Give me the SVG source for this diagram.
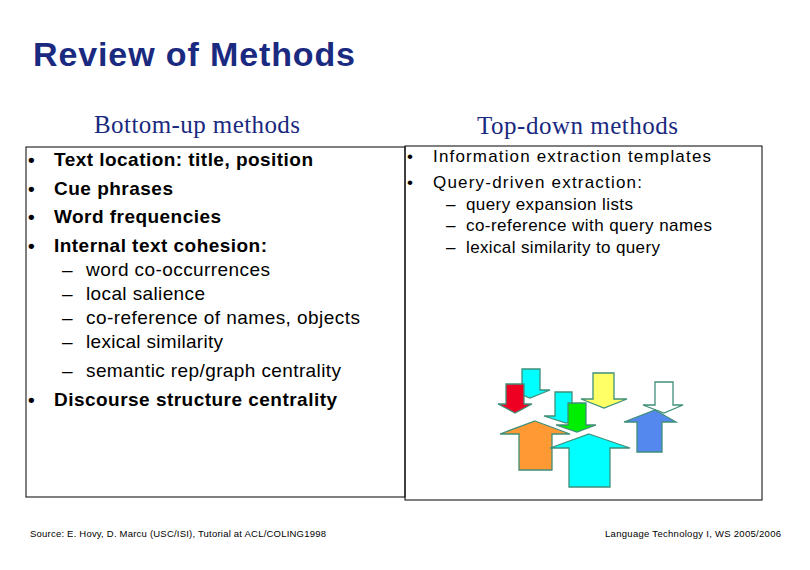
<svg xmlns="http://www.w3.org/2000/svg" width="810" height="570" viewBox="0 0 810 570">
<style>
.b{font-family:"Liberation Sans",Arial,sans-serif;font-weight:bold;font-size:19px;fill:#000}
.s{font-family:"Liberation Sans",Arial,sans-serif;font-size:19px;fill:#000}
.r{font-family:"Liberation Sans",Arial,sans-serif;font-size:17px;fill:#000}
.h{font-family:"Liberation Serif","Times New Roman",serif;font-size:25px;fill:#1a2a80}
.f{font-family:"Liberation Sans",Arial,sans-serif;font-size:9.5px;fill:#000}
.a{stroke:#3f8f7a;stroke-width:1.3}
</style>
<rect width="810" height="570" fill="#fff"/>
<text x="33" y="66" font-family="Liberation Sans,Arial,sans-serif" font-weight="bold" font-size="34" fill="#1a2a80" textLength="322" lengthAdjust="spacing">Review of Methods</text>
<g id="left">
<rect x="26" y="147" width="379" height="350" fill="none" stroke="#000" stroke-width="1"/>
<text class="h" x="94" y="133" textLength="206" lengthAdjust="spacing">Bottom-up methods</text>
<g class="b"><text x="28" y="166">•</text><text x="54" y="166" textLength="259" lengthAdjust="spacing">Text location: title, position</text>
<text x="28" y="195">•</text><text x="54" y="195" textLength="119" lengthAdjust="spacing">Cue phrases</text>
<text x="28" y="223">•</text><text x="54" y="223" textLength="167" lengthAdjust="spacing">Word frequencies</text>
<text x="28" y="252">•</text><text x="54" y="252" textLength="213" lengthAdjust="spacing">Internal text cohesion:</text>
<text x="28" y="406">•</text><text x="54" y="406" textLength="283" lengthAdjust="spacing">Discourse structure centrality</text></g>
<g class="s"><text x="62" y="276">–</text><text x="86" y="276" textLength="184" lengthAdjust="spacing">word co-occurrences</text>
<text x="62" y="300">–</text><text x="86" y="300" textLength="119" lengthAdjust="spacing">local salience</text>
<text x="62" y="324">–</text><text x="86" y="324" textLength="274" lengthAdjust="spacing">co-reference of names, objects</text>
<text x="62" y="348">–</text><text x="86" y="348" textLength="137" lengthAdjust="spacing">lexical similarity</text>
<text x="62" y="377">–</text><text x="86" y="377" textLength="255" lengthAdjust="spacing">semantic rep/graph centrality</text></g>
</g>
<g id="right">
<rect x="405" y="146" width="357" height="354" fill="none" stroke="#000" stroke-width="1"/>
<text class="h" x="477" y="134" textLength="201" lengthAdjust="spacing">Top-down methods</text>
<g class="r"><text x="407" y="162">•</text><text x="433" y="162" textLength="278" lengthAdjust="spacing">Information extraction templates</text>
<text x="407" y="188">•</text><text x="433" y="188" textLength="209" lengthAdjust="spacing">Query-driven extraction:</text>
<text x="446" y="210">–</text><text x="466" y="210" textLength="167" lengthAdjust="spacing">query expansion lists</text>
<text x="446" y="231">–</text><text x="466" y="231" textLength="246" lengthAdjust="spacing">co-reference with query names</text>
<text x="446" y="253">–</text><text x="466" y="253" textLength="194" lengthAdjust="spacing">lexical similarity to query</text></g>
</g>
<g id="arrows" class="a">
<polygon fill="#00ffff" points="522,369 540,369 540,390 550,390 530,398 510,390 522,390"/>
<polygon fill="#ee0022" points="506,384 524,384 524,404 532,404 515,413 498,404 506,404"/>
<polygon fill="#00ffff" points="555,392 572,392 572,416 582,416 566,423 544,416 555,416"/>
<polygon fill="#ffff66" points="593,373 614,373 614,399 627,399 604,408 581,399 593,399"/>
<polygon fill="#ffffff" points="655,382 673,382 673,405 683,405 664,413 643,405 655,405"/>
<polygon fill="#00ee00" points="568,403 586,403 586,425 596,425 577,432 556,425 568,425"/>
<polygon fill="#ff9933" points="535,421 570,434 552,434 552,470 519,470 519,434 500,434"/>
<polygon fill="#00ffff" points="589,434 630,448 610,448 610,487 569,487 569,448 550,448"/>
<polygon fill="#5588ee" points="655,410 676,422 662,422 662,452 637,452 637,422 624,422"/>
</g>
<text class="f" x="30" y="537" textLength="296" lengthAdjust="spacing">Source: E. Hovy, D. Marcu (USC/ISI), Tutorial at ACL/COLING1998</text>
<text class="f" x="605" y="537" textLength="176" lengthAdjust="spacing">Language Technology I, WS 2005/2006</text>
</svg>
